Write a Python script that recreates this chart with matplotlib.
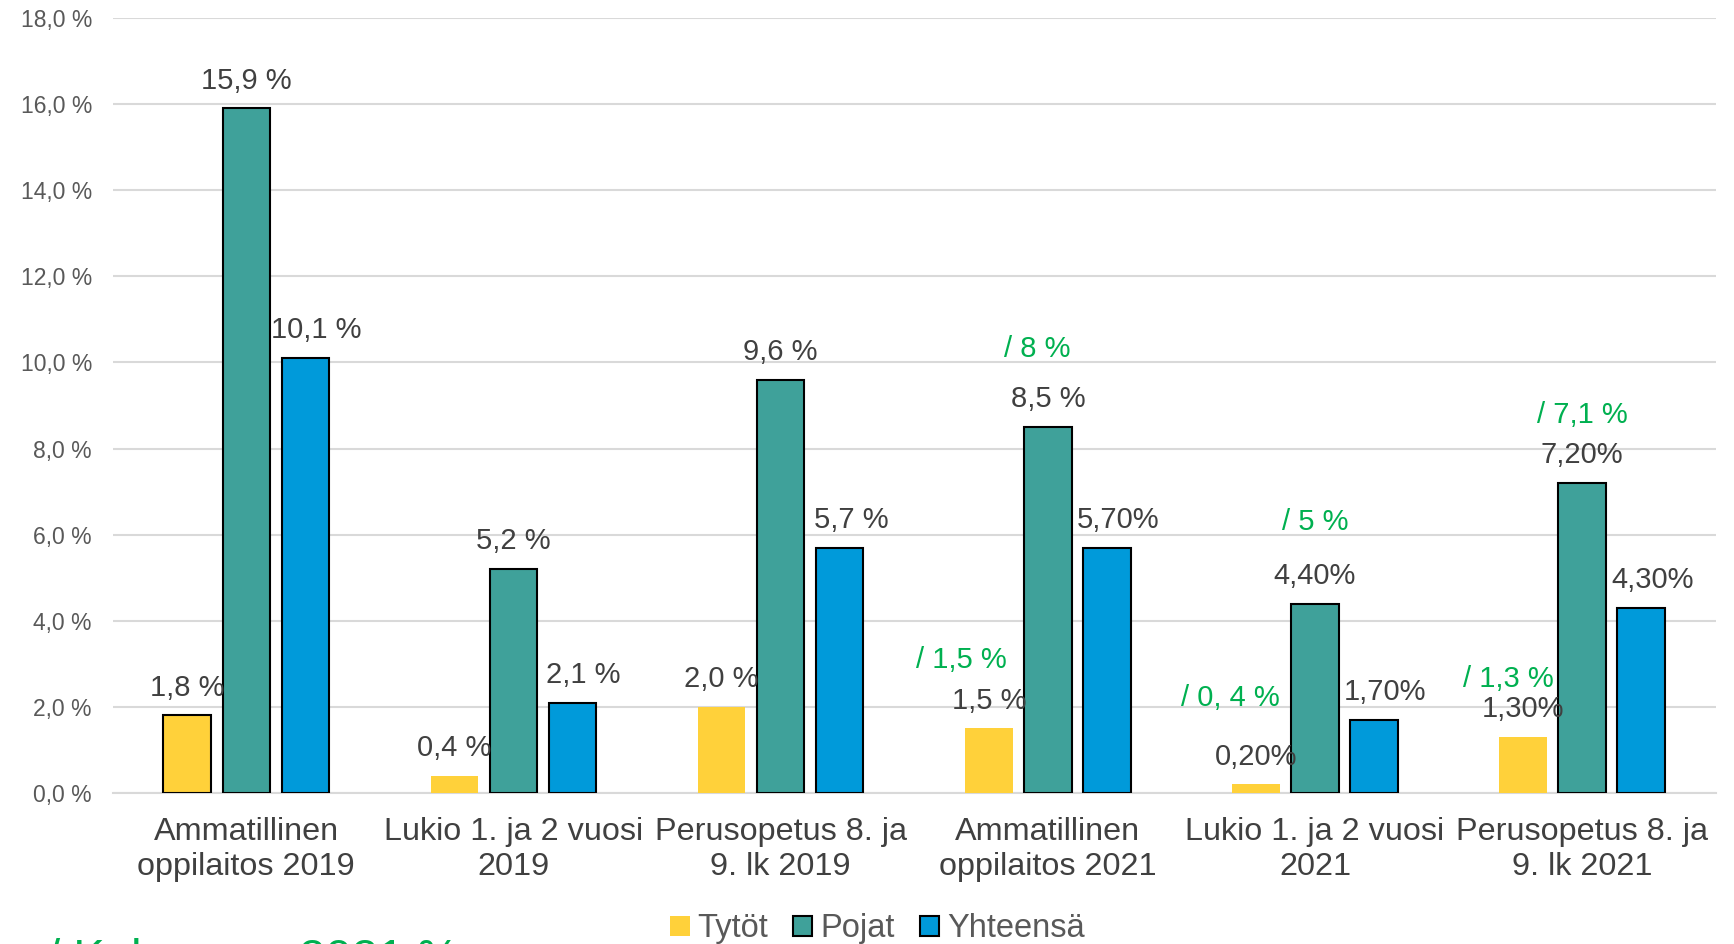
import numpy as np
import matplotlib
matplotlib.use("Agg")
import matplotlib.pyplot as plt
from matplotlib.patches import Patch

plt.rcParams["font.family"] = ["Liberation Sans", "DejaVu Sans"]

categories = [
    "Ammatillinen\noppilaitos 2019",
    "Lukio 1. ja 2 vuosi\n2019",
    "Perusopetus 8. ja\n9. lk 2019",
    "Ammatillinen\noppilaitos 2021",
    "Lukio 1. ja 2 vuosi\n2021",
    "Perusopetus 8. ja\n9. lk 2021",
]
series_names = ["Tytöt", "Pojat", "Yhteensä"]
tytot = [1.8, 0.4, 2.0, 1.5, 0.2, 1.3]
pojat = [15.9, 5.2, 9.6, 8.5, 4.4, 7.2]
yhteensa = [10.1, 2.1, 5.7, 5.7, 1.7, 4.3]
tytot_labels = ["1,8 %", "0,4 %", "2,0 %", "1,5 %", "0,20%", "1,30%"]
pojat_labels = ["15,9 %", "5,2 %", "9,6 %", "8,5 %", "4,40%", "7,20%"]
yhteensa_labels = ["10,1 %", "2,1 %", "5,7 %", "5,70%", "1,70%", "4,30%"]

# green national comparison notes: (group index, x shift, y value, text)
notes_group = [3, 3, 4, 4, 5, 5]
notes_dx = [-0.04, -0.325, 0.0, -0.315, 0.0, -0.275]
notes_y = [10.30, 3.09, 6.29, 2.21, 8.78, 2.65]
notes_text = ["/ 8 %", "/ 1,5 %", "/ 5 %", "/ 0, 4 %", "/ 7,1 %", "/ 1,3 %"]

colors = ["#FFD13A", "#3FA19A", "#009ADA"]
green = "#00B050"

fig = plt.figure(figsize=(17.34, 9.44), dpi=100)
ax = fig.add_axes([0.065, 0.16, 0.9245, 0.821])

x = np.arange(len(categories))
w = 0.178
off = 0.221

bars_t = ax.bar(x - off, tytot, w, color=colors[0], zorder=3)
bars_t[0].set_edgecolor("black")
bars_t[0].set_linewidth(1.5)
bars_p = ax.bar(x, pojat, w, color=colors[1], edgecolor="black", linewidth=1.5, zorder=3)
bars_y = ax.bar(x + off, yhteensa, w, color=colors[2], edgecolor="black", linewidth=1.5, zorder=3)

# Yhteensä labels sit a bit to the right of their bars
for bars, labels, dxp in [(bars_t, tytot_labels, 0), (bars_p, pojat_labels, 0),
                          (bars_y, yhteensa_labels, 8)]:
    for b, lab in zip(bars, labels):
        ax.annotate(lab, (b.get_x() + b.get_width() / 2, b.get_height()),
                    xytext=(dxp, 20), textcoords="offset points",
                    ha="center", va="center", fontsize=21, color="#404040", zorder=5)

for g, dx, yv, t in zip(notes_group, notes_dx, notes_y, notes_text):
    ax.text(g + dx, yv, t, ha="center", va="center", fontsize=21, color=green, zorder=5)

ax.set_xlim(-0.5, len(categories) - 0.5)
ax.set_ylim(0, 18)
ax.set_yticks(np.arange(0, 18.1, 2))
ax.set_yticklabels([f"{v:.1f} %".replace(".", ",") for v in np.arange(0, 18.1, 2)])
ax.set_xticks(x)
ax.set_xticklabels(categories, fontsize=23.3, color="#404040", linespacing=1.22)
ax.tick_params(axis="y", length=0, pad=15, labelsize=16.5, labelcolor="#595959")
ax.tick_params(axis="x", length=0, pad=17)
ax.grid(axis="y", color="#D9D9D9", linewidth=1.5, zorder=0)
ax.set_axisbelow(True)
for s in ["top", "right", "left"]:
    ax.spines[s].set_visible(False)
ax.spines["bottom"].set_color("#D9D9D9")
ax.spines["bottom"].set_linewidth(1.5)

handles = [
    Patch(facecolor=colors[0], edgecolor="none"),
    Patch(facecolor=colors[1], edgecolor="black", linewidth=1.5),
    Patch(facecolor=colors[2], edgecolor="black", linewidth=1.5),
]
fig.legend(handles, series_names, loc="center", bbox_to_anchor=(0.506, 0.016),
           ncol=3, frameon=False, fontsize=23.5, handlelength=0.6, handleheight=0.6,
           handletextpad=0.25, columnspacing=0.75, labelcolor="#595959")

fig.text(0.027, 0.006, "/ Koko maa 2021 %", ha="left", va="top",
         fontsize=34, color=green)

fig.savefig("out.png", dpi=100)
